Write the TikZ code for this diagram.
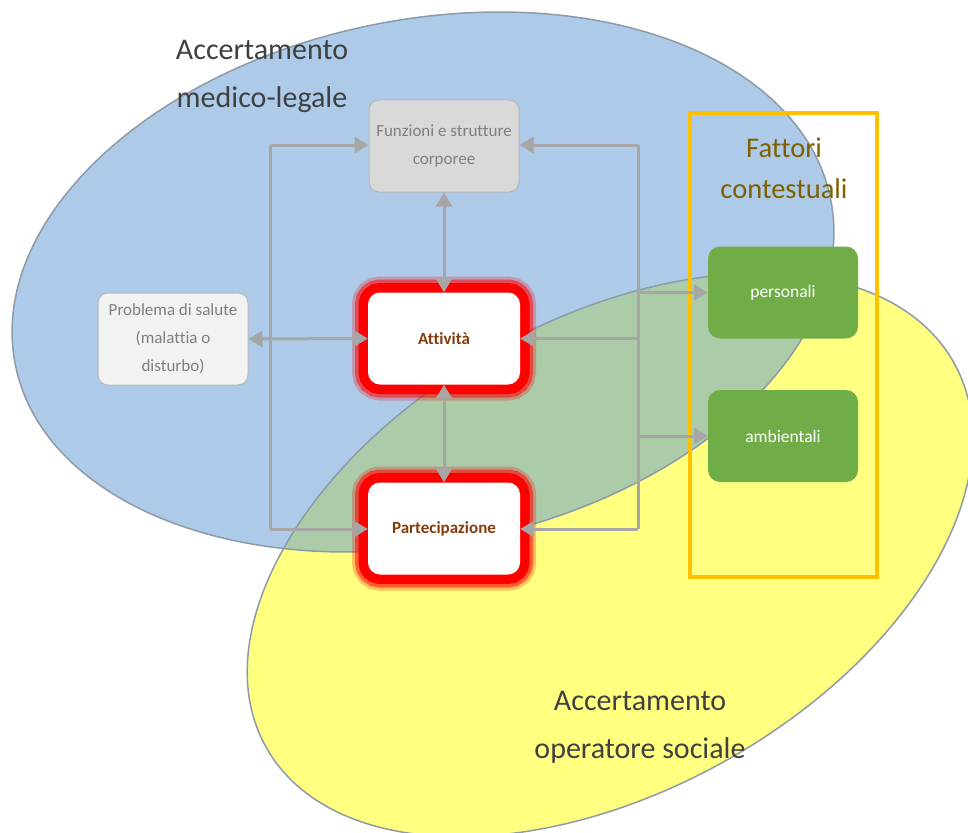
\documentclass[tikz,border=0pt]{standalone}
\usepackage{fontspec}
\setmainfont{Carlito}[Ligatures=NoCommon]
\usetikzlibrary{arrows.meta}
\definecolor{blueE}{HTML}{ADCBE8}
\definecolor{yellowE}{HTML}{FFFF80}
\definecolor{greenE}{HTML}{ABCBA9}
\definecolor{edgeE}{HTML}{8E9AA8}
\definecolor{conn}{HTML}{A6A6A6}
\definecolor{boxgray}{HTML}{D9D9D9}
\definecolor{boxlight}{HTML}{F2F2F2}
\definecolor{txtgray}{HTML}{7F7F7F}
\definecolor{brownT}{HTML}{843C0C}
\definecolor{greenB}{HTML}{70AD47}
\definecolor{orangeR}{HTML}{FFC000}
\definecolor{goldT}{HTML}{7F6000}
\definecolor{darkT}{HTML}{404040}
\begin{document}
\begin{tikzpicture}[x=1pt,y=-1pt,
  conline/.style={draw=conn,line width=3pt},
  arr/.style={conline,-{Triangle[length=14pt,width=16pt]}},
  darr/.style={conline,{Triangle[length=14pt,width=16pt]}-{Triangle[length=14pt,width=16pt]}},
  graybox/.style={draw=conn!80,line width=1pt,rounded corners=10pt,minimum width=150pt,minimum height=92pt,align=center,text=txtgray,font=\fontsize{17}{28}\selectfont,inner sep=0pt},
  glowbox/.style={
    preaction={draw=red,opacity=0.25,line width=32pt,rounded corners=14pt},
    preaction={draw=red,opacity=0.5,line width=26pt,rounded corners=13pt},
    preaction={draw=red,line width=19pt,rounded corners=12pt},
    fill=white,rounded corners=12pt,minimum width=152pt,minimum height=92pt,
    text=brownT,font=\fontsize{17}{20}\selectfont\bfseries,inner sep=0pt},
  greenbox/.style={fill=greenB,rounded corners=12pt,minimum width=150pt,minimum height=92pt,text=white,font=\fontsize{17.5}{20}\selectfont,inner sep=0pt},
  bigtext/.style={align=center,font=\fontsize{30}{48}\selectfont,text=darkT}
]
\useasboundingbox (0,0) rectangle (968,832);
\fill[white] (0,0) rectangle (968,832);
\begin{scope}
\clip (0,0) rectangle (968,832);
% ellipses
\fill[blueE] (423,282) ellipse[x radius=416pt,y radius=262pt,rotate=11.6];
\fill[yellowE] (610,555) ellipse[x radius=394pt,y radius=236pt,rotate=29.2];
\begin{scope}
\clip (423,282) ellipse[x radius=416pt,y radius=262pt,rotate=11.6];
\fill[greenE] (610,555) ellipse[x radius=394pt,y radius=236pt,rotate=29.2];
\end{scope}
\draw[edgeE,line width=1.5pt] (423,282) ellipse[x radius=416pt,y radius=262pt,rotate=11.6];
\draw[edgeE,line width=1.5pt] (610,555) ellipse[x radius=394pt,y radius=236pt,rotate=29.2];
\end{scope}

% titles
\node[bigtext] (tml) at (262,76) {Accertamento\\medico-legale};
\node[bigtext] (tos) at (640,727) {Accertamento\\operatore sociale};

% orange frame
\node[draw=orangeR,line width=4pt,minimum width=187pt,minimum height=464pt,inner sep=0pt] (frame) at (783.5,345) {};
\node[align=center,text=goldT,font=\fontsize{28.5}{41}\selectfont] (fatt) at (784,168) {Fattori\\contestuali};

% boxes
\node[graybox,fill=boxgray] (funz) at (444,146) {Funzioni e strutture\\corporee};
\node[graybox,fill=boxlight] (prob) at (173,339) {Problema di salute\\(malattia o\\disturbo)};
\node[glowbox] (att) at (444,338.5) {Attività};
\node[glowbox] (part) at (444,528.5) {Partecipazione};
\node[greenbox] (pers) at (783,292.5) {personali};
\node[greenbox] (amb) at (783,436) {ambientali};

% connector skeleton
\coordinate (lt) at (270,145);
\coordinate (lb) at (270,529);
\coordinate (rt) at (638,145);
\coordinate (rb) at (638,529);
\coordinate (ra) at (638,338.5);
\coordinate (rp) at (638,292.5);
\coordinate (rm) at (638,436);
\draw[conline] (lt) -- (lb);
\draw[conline] (rt) -- (rb);
\draw[arr] (lt) -- (funz.west |- lt);
\draw[arr] (lb) -- (part.west |- lb);
\draw[arr] (rt) -- (funz.east |- rt);
\draw[arr] (rb) -- (part.east |- rb);
\draw[arr] (ra) -- (att.east);
\draw[arr] (rp) -- (pers.west);
\draw[arr] (rm) -- (amb.west);
\draw[darr] (prob.east) -- (att.west);
\draw[darr] (funz.south) -- (att.north);
\draw[darr] (att.south) -- (part.north);
\end{tikzpicture}
\end{document}
